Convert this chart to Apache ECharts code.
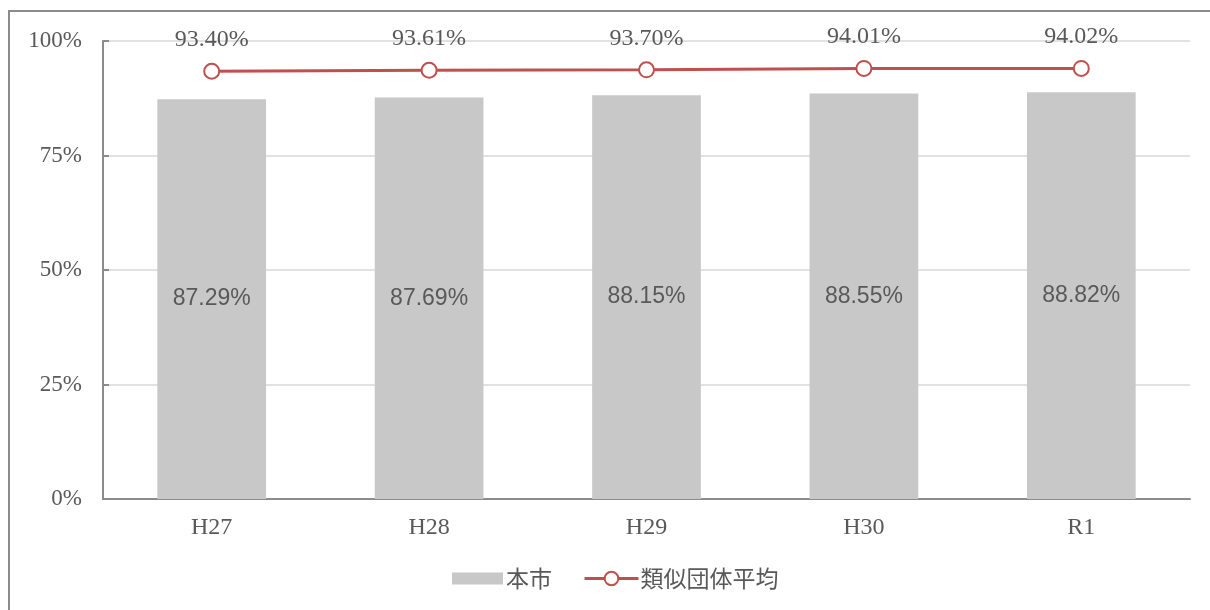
<!DOCTYPE html>
<html>
<head>
<meta charset="utf-8">
<script src="https://cdn.jsdelivr.net/npm/echarts@6/dist/echarts.min.js"></script>
<style>
html,body{margin:0;padding:0;background:#fff;}
#c{width:1210px;height:610px;}
</style>
</head>
<body>
<div id="c"></div>
<script>
const categories = ['H27', 'H28', 'H29', 'H30', 'R1'];
const cityValues = [87.29, 87.69, 88.15, 88.55, 88.82];
const avgValues = [93.40, 93.61, 93.70, 94.01, 94.02];
const yTicks = [0, 25, 50, 75, 100];
const seriesNames = ['本市', '類似団体平均'];

const serif = '"Liberation Serif", "Times New Roman", serif';
const sans = '"Liberation Sans", Arial, sans-serif';
const cjk = '"Noto Sans CJK JP", "Noto Sans", sans-serif';
const textColor = '#595959';
const axisColor = '#8c8c8c';

const chart = echarts.init(document.getElementById('c'));
chart.setOption({
  animation: false,
  backgroundColor: '#fff',
  graphic: [{
    type: 'rect',
    shape: { x: 9, y: 11, width: 1300, height: 700 },
    style: { fill: 'none', stroke: axisColor, lineWidth: 2 },
    silent: true
  }],
  grid: { left: 103, right: 20, top: 41, bottom: 111, containLabel: false },
  legend: [
    {
      left: 447,
      top: 562,
      itemWidth: 51,
      itemHeight: 12,
      textStyle: { fontFamily: cjk, fontSize: 23, color: textColor, padding: [0, 0, 0, -2] },
      data: [{ name: seriesNames[0], icon: 'rect' }]
    },
    {
      left: 578,
      top: 562,
      itemWidth: 54,
      itemHeight: 17,
      textStyle: { fontFamily: cjk, fontSize: 23, color: textColor, padding: [0, 0, 0, -3] },
      data: [{ name: seriesNames[1], lineStyle: { width: 3 } }]
    }
  ],
  xAxis: {
    type: 'category',
    data: categories,
    axisLine: { lineStyle: { color: axisColor, width: 2 } },
    axisTick: { inside: true, length: 6, lineStyle: { color: axisColor, width: 2 } },
    axisLabel: { fontFamily: serif, fontSize: 24, color: textColor, margin: 17 }
  },
  yAxis: {
    type: 'value',
    min: yTicks[0],
    max: yTicks[yTicks.length - 1],
    interval: yTicks[1] - yTicks[0],
    axisLine: { show: true, lineStyle: { color: axisColor, width: 2 } },
    axisTick: { show: true, inside: true, length: 6, lineStyle: { color: axisColor, width: 2 } },
    splitLine: { lineStyle: { color: '#d9d9d9', width: 1.5 } },
    axisLabel: { fontFamily: serif, fontSize: 23, color: textColor, margin: 21, formatter: '{value}%' }
  },
  series: [
    {
      name: seriesNames[0],
      type: 'bar',
      data: cityValues,
      barWidth: '50%',
      itemStyle: { color: '#c8c8c8' },
      label: {
        show: true,
        position: 'inside',
        fontFamily: sans,
        fontSize: 23,
        color: textColor,
        formatter: p => p.value.toFixed(2) + '%'
      }
    },
    {
      name: seriesNames[1],
      type: 'line',
      data: avgValues,
      symbol: 'emptyCircle',
      symbolSize: 15,
      lineStyle: { color: '#c0504d', width: 3 },
      itemStyle: { color: '#c0504d', borderColor: '#c0504d', borderWidth: 2 },
      label: {
        show: true,
        position: 'top',
        distance: 11,
        fontFamily: serif,
        fontSize: 24,
        color: textColor,
        formatter: p => p.value.toFixed(2) + '%'
      }
    }
  ]
});
</script>
</body>
</html>
